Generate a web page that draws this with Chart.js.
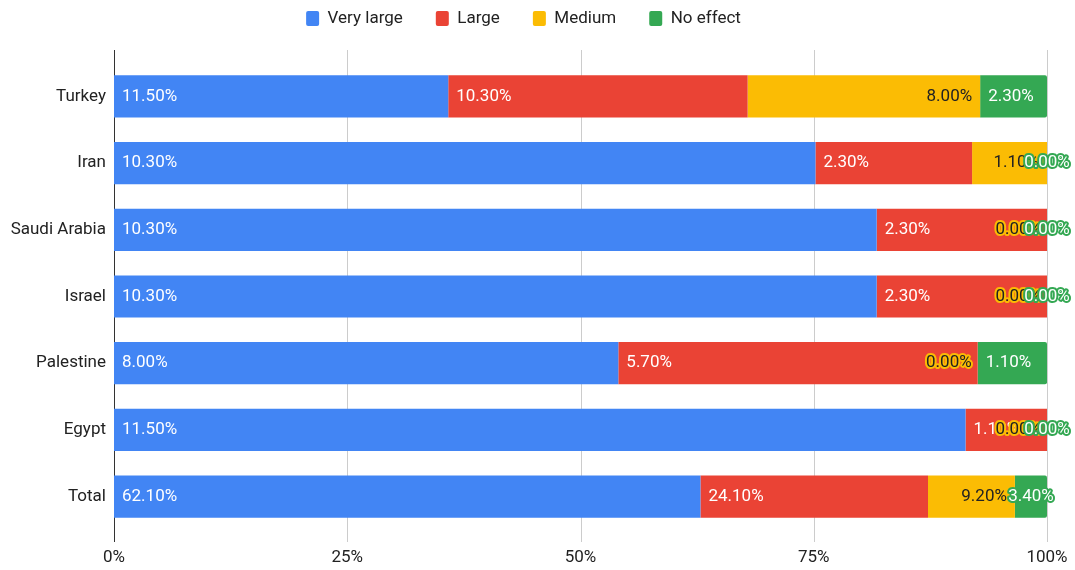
<!DOCTYPE html>
<html>
<head>
<meta charset="utf-8">
<script src="https://cdn.jsdelivr.net/npm/chart.js@4/dist/chart.umd.min.js"></script>
<style>
  body { margin: 0; background: #fff; }
  #wrap { width: 1075px; height: 570px; }
</style>
</head>
<body>
<div id="wrap"><canvas id="effectChart"></canvas></div>
<script>
// categories and per-level percentages
const countries = ['Turkey', 'Iran', 'Saudi Arabia', 'Israel', 'Palestine', 'Egypt', 'Total'];
const veryLarge = [11.5, 10.3, 10.3, 10.3, 8.0, 11.5, 62.1];
const large     = [10.3, 2.3, 2.3, 2.3, 5.7, 1.1, 24.1];
const medium    = [8.0, 1.1, 0, 0, 0, 0, 9.2];
const noEffect  = [2.3, 0, 0, 0, 1.1, 0, 3.4];
const xTicks = [0, 25, 50, 75, 100];

const FONT = 'Roboto';
const SIZE = 17;

// each row stretched to 100%
const rowTotals = countries.map((c, i) => veryLarge[i] + large[i] + medium[i] + noEffect[i]);
const share = arr => arr.map((v, i) => v / rowTotals[i] * 100);

// vertical grid lines + axis line, a bit taller than the bar band
const gridLines = {
    id: 'gridLines',
    beforeDatasetsDraw(chart) {
        const { ctx, chartArea, scales: { x } } = chart;
        const top = chartArea.top - 13;
        const bottom = chartArea.bottom + 12;
        ctx.save();
        ctx.lineWidth = 1;
        xTicks.forEach(v => {
            const px = Math.round(x.getPixelForValue(v)) + 0.5;
            ctx.strokeStyle = v === 0 ? '#333333' : '#cccccc';
            ctx.beginPath();
            ctx.moveTo(px, top);
            ctx.lineTo(px, bottom);
            ctx.stroke();
        });
        ctx.restore();
    }
};

// value labels inside the segments, with a halo when they don't fit
const barLabels = {
    id: 'barLabels',
    afterDatasetsDraw(chart) {
        const ctx = chart.ctx;
        ctx.save();
        ctx.font = SIZE + 'px ' + FONT;
        ctx.textBaseline = 'middle';
        chart.data.datasets.forEach((ds, i) => {
            chart.getDatasetMeta(i).data.forEach((bar, j) => {
                const text = ds.values[j].toFixed(2) + '%';
                const tw = ctx.measureText(text).width;
                const left = Math.min(bar.base, bar.x);
                const right = Math.max(bar.base, bar.x);
                const fits = tw + 16 <= right - left;
                let x;
                if (ds.labelAlign === 'end') {
                    ctx.textAlign = 'right';
                    x = right - (fits ? 8 : 6);
                } else if (fits) {
                    ctx.textAlign = 'left';
                    x = left + 8;
                } else {
                    ctx.textAlign = 'center';
                    x = (left + right) / 2;
                }
                if (!fits) {
                    ctx.lineWidth = 4;
                    ctx.lineJoin = 'round';
                    ctx.strokeStyle = ds.backgroundColor;
                    ctx.strokeText(text, x, bar.y);
                }
                ctx.fillStyle = ds.labelColor;
                ctx.fillText(text, x, bar.y);
            });
        });
        ctx.restore();
    }
};

const makeSet = (label, values, color, labelColor, labelAlign) => ({
    label: label,
    data: share(values),
    values: values,
    backgroundColor: color,
    labelColor: labelColor,
    labelAlign: labelAlign,
    borderWidth: 0,
    barPercentage: 0.633,
    categoryPercentage: 1
});

const datasets = [
    makeSet('Very large', veryLarge, '#4285F4', '#ffffff', 'start'),
    makeSet('Large', large, '#EA4335', '#ffffff', 'start'),
    makeSet('Medium', medium, '#FBBC04', '#222222', 'end'),
    makeSet('No effect', noEffect, '#34A853', '#ffffff', 'start')
];
datasets[3].borderRadius = 2;

new Chart(document.getElementById('effectChart'), {
    type: 'bar',
    data: { labels: countries, datasets: datasets },
    plugins: [gridLines, barLabels],
    options: {
        indexAxis: 'y',
        responsive: true,
        maintainAspectRatio: false,
        animation: false,
        layout: { padding: { top: -23, right: 28, bottom: 0, left: 0 } },
        plugins: {
            legend: {
                position: 'top',
                weight: 3000,
                labels: {
                    font: { family: FONT, size: SIZE },
                    color: '#222222',
                    boxWidth: 13,
                    boxHeight: 15,
                    padding: 33,
                    useBorderRadius: true,
                    borderRadius: 2
                }
            },
            // spacer between legend and plot
            title: {
                display: true,
                text: '',
                padding: 0,
                font: { size: 10, lineHeight: 2.6 }
            },
            tooltip: { enabled: false }
        },
        scales: {
            x: {
                stacked: true,
                min: 0,
                max: 100,
                grid: { display: false, drawTicks: false },
                border: { display: false },
                ticks: {
                    stepSize: 25,
                    padding: 18,
                    color: '#222222',
                    font: { family: FONT, size: SIZE },
                    callback: v => v + '%'
                },
                afterFit: s => {
                    s.height = 40;
                    s.paddingLeft = 0;
                    s.paddingRight = 0;
                }
            },
            y: {
                stacked: true,
                grid: { display: false, drawTicks: false },
                border: { display: false },
                ticks: {
                    padding: 8,
                    color: '#222222',
                    font: { family: FONT, size: SIZE }
                },
                afterFit: s => { s.width = 114; }
            }
        }
    }
});
</script>
</body>
</html>
